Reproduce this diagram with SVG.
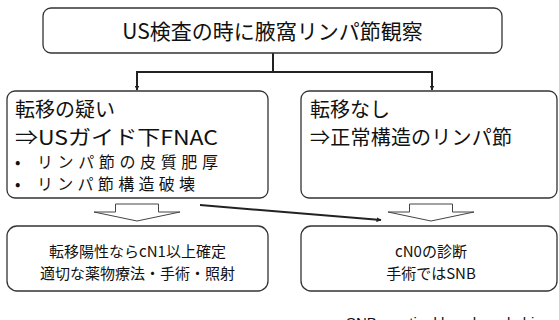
<svg xmlns="http://www.w3.org/2000/svg" width="559" height="320" viewBox="0 0 559 320">
<style>
.box{fill:#fff;stroke:#333;stroke-width:1.3}
.blk{fill:#fff;stroke:#444;stroke-width:1}
.con{fill:none;stroke:#222;stroke-width:2}
text{font-family:"Noto Sans CJK JP","Liberation Sans",sans-serif;fill:#111}
.t21{font-size:21px}
.t20{font-size:20px}
.t16{font-size:16px}
.t15{font-size:15px}
</style>
<defs>
<marker id="ah" viewBox="0 0 10 10" refX="9" refY="5" markerWidth="5" markerHeight="5" orient="auto" markerUnits="userSpaceOnUse">
<path d="M0,0 L10,5 L0,10 z" fill="#222"/>
</marker>
</defs>
<rect width="559" height="320" fill="#fff"/>
<g id="connectors">
<path class="con" d="M273,53 V72"/>
<path class="con" d="M137,72 H432"/>
<path class="con" d="M137,71 V90" marker-end="url(#ah)"/>
<path class="con" d="M432,71 V90" marker-end="url(#ah)"/>
<path class="con" d="M200,205 L381,220" marker-end="url(#ah)"/>
<path class="blk" d="M115.5,204 H158.5 V212 H180 L137,221 L94,212 H115.5 Z"/>
<path class="blk" d="M409.5,204 H452.5 V212 H474 L431,221 L388,212 H409.5 Z"/>
</g>
<g id="top">
<rect class="box" x="43" y="8" width="459" height="45" rx="8"/>
<text class="t21" x="272.5" y="39" text-anchor="middle">US検査の時に腋窩リンパ節観察</text>
</g>
<g id="left">
<rect class="box" x="7" y="91" width="261" height="107" rx="8"/>
<text class="t20" x="15" y="117">転移の疑い</text>
<text class="t20" x="15" y="145" textLength="203" lengthAdjust="spacingAndGlyphs">⇒USガイド下FNAC</text>
<text class="t16" x="15" y="168">•<tspan x="37" textLength="181" lengthAdjust="spacing">リンパ節の皮質肥厚</tspan></text>
<text class="t16" x="15" y="190">•<tspan x="37" textLength="158" lengthAdjust="spacing">リンパ節構造破壊</tspan></text>
</g>
<g id="right">
<rect class="box" x="301" y="91" width="256" height="107" rx="8"/>
<text class="t20" x="310" y="117">転移なし</text>
<text class="t20" x="310" y="145" textLength="202" lengthAdjust="spacing">⇒正常構造のリンパ節</text>
</g>
<g id="left-result">
<rect class="box" x="7" y="226" width="261" height="65" rx="10"/>
<text class="t15" x="137.5" y="257" text-anchor="middle">転移陽性ならcN1以上確定</text>
<text class="t15" x="137.5" y="279" text-anchor="middle">適切な薬物療法・手術・照射</text>
</g>
<g id="right-result">
<rect class="box" x="301" y="226" width="256" height="65" rx="10"/>
<text class="t15" x="431" y="257" text-anchor="middle">cN0の診断</text>
<text class="t15" x="431" y="279" text-anchor="middle">手術ではSNB</text>
</g>
<text x="346" y="328" style="font-family:'Liberation Sans',sans-serif;font-size:15px">SNB: sentinel lymph node biopsy</text>
</svg>
